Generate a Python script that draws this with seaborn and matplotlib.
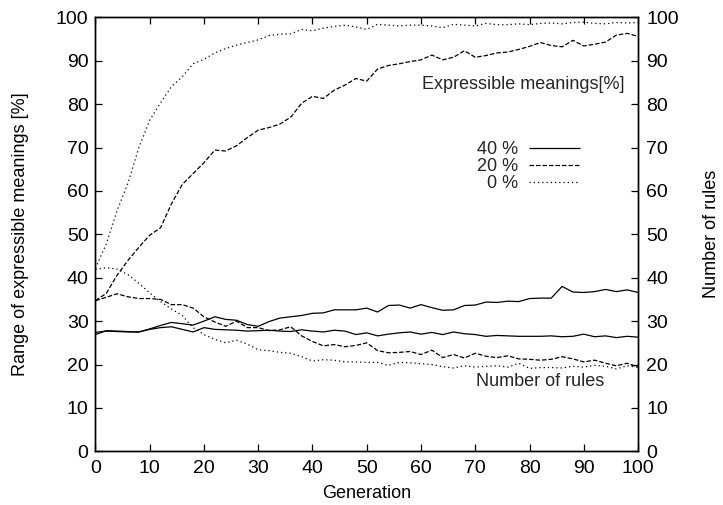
import matplotlib
matplotlib.use("Agg")
import matplotlib.pyplot as plt
import seaborn as sns
import numpy as np
import pandas as pd

# ---- data ----
generation = list(range(0, 101, 2))

meanings_40 = [27.4, 27.7, 27.6, 27.5, 27.5, 28.2, 29.0, 29.7, 29.4, 29.1, 30.0, 31.0, 30.4,
               30.2, 29.2, 28.8, 29.9, 30.7, 31.0, 31.3, 31.8, 31.9, 32.6, 32.6, 32.6, 33.0,
               32.1, 33.6, 33.7, 33.0, 33.8, 33.1, 32.5, 32.6, 33.6, 33.7, 34.4, 34.3, 34.6,
               34.5, 35.2, 35.3, 35.3, 38.0, 36.7, 36.6, 36.8, 37.3, 36.8, 37.2, 36.6]
meanings_20 = [34.7, 36.4, 40.6, 44.0, 47.0, 49.8, 51.5, 57.0, 61.5, 64.0, 66.5, 69.4, 69.2,
               70.4, 72.3, 74.0, 74.6, 75.4, 77.0, 80.2, 81.8, 81.3, 83.2, 84.4, 85.9, 85.3,
               88.1, 88.9, 89.3, 89.8, 90.2, 91.3, 90.2, 90.8, 92.3, 90.8, 91.2, 91.8, 92.0,
               92.6, 93.3, 94.2, 93.5, 93.2, 94.7, 93.4, 93.8, 94.3, 95.9, 96.3, 95.6]
meanings_0 = [42.2, 47.8, 55.5, 61.8, 70.0, 76.3, 80.3, 84.0, 86.3, 89.3, 90.3, 91.8, 92.8,
              93.6, 94.2, 94.8, 95.8, 96.1, 96.2, 97.2, 96.9, 97.5, 97.9, 98.2, 97.8, 97.2,
              98.4, 98.2, 98.0, 98.2, 98.2, 98.0, 97.6, 98.4, 98.2, 98.0, 98.6, 98.3, 98.3,
              98.5, 98.3, 98.6, 98.7, 98.5, 98.8, 98.9, 98.6, 98.5, 98.8, 98.7, 98.8]

rules_40 = [26.9, 27.8, 27.7, 27.6, 27.5, 28.1, 28.5, 28.7, 28.1, 27.5, 28.5, 28.1, 28.0,
            27.9, 27.7, 27.8, 27.9, 27.7, 27.6, 28.0, 27.7, 27.5, 27.9, 27.7, 26.9, 27.3,
            26.6, 27.0, 27.3, 27.5, 27.0, 27.4, 26.9, 27.5, 27.1, 26.9, 26.5, 26.7, 26.6,
            26.5, 26.5, 26.5, 26.6, 26.4, 26.5, 27.0, 26.4, 26.6, 26.2, 26.5, 26.3]
rules_20 = [34.7, 35.5, 36.3, 35.6, 35.2, 35.2, 35.0, 33.8, 33.8, 33.0, 31.0, 29.8, 28.8,
            30.0, 28.5, 28.5, 27.8, 28.0, 28.7, 26.6, 25.3, 24.3, 24.6, 24.1, 24.4, 25.0,
            23.2, 22.7, 22.8, 23.0, 22.3, 23.3, 21.6, 22.3, 21.5, 22.6, 21.9, 21.6, 22.0,
            21.3, 21.2, 21.0, 21.2, 21.8, 21.3, 20.6, 21.0, 20.3, 19.7, 20.3, 19.4]
rules_0 = [41.9, 42.3, 42.0, 40.7, 38.7, 36.5, 34.5, 32.8, 31.3, 28.5, 26.9, 25.8, 25.0,
           25.6, 24.7, 23.4, 23.2, 22.8, 22.6, 21.8, 20.8, 21.1, 21.0, 20.6, 20.6, 20.5,
           20.5, 19.8, 20.5, 20.4, 20.2, 20.0, 19.5, 19.2, 19.7, 19.4, 19.6, 19.7, 19.4,
           20.3, 19.1, 19.3, 19.3, 19.2, 19.6, 19.4, 19.8, 19.6, 19.0, 19.7, 19.4]

series_labels = ["40 %", "20 %", "0 %"]
axis_ticks = list(range(0, 101, 10))

# ---- styling ----
sns.set_theme(style="ticks")
plt.rcParams["font.family"] = ["Liberation Sans", "DejaVu Sans"]
plt.rcParams["xtick.direction"] = "in"
plt.rcParams["ytick.direction"] = "in"

TICK_FS = 14
TEXT_FS = 13
YLAB_FS = 13

styles = {
    "40 %": (0, ()),
    "20 %": (0, (3.6, 1.6)),
    "0 %": (0, (1.0, 2.4)),
}

fig = plt.figure(figsize=(7.23, 5.05), dpi=100)
ax = fig.add_axes([0.132, 0.1063, 0.7505, 0.8594])
ax2 = ax.twinx()

meanings = {"40 %": meanings_40, "20 %": meanings_20, "0 %": meanings_0}
rules = {"40 %": rules_40, "20 %": rules_20, "0 %": rules_0}

for lab in series_labels:
    sns.lineplot(x=generation, y=meanings[lab], ax=ax, color="black", lw=0.9,
                 linestyle=styles[lab], label=lab)
    sns.lineplot(x=generation, y=rules[lab], ax=ax2, color="black", lw=0.9,
                 linestyle=styles[lab], legend=False)

for a in (ax, ax2):
    a.set_xlim(0, 100)
    a.set_ylim(0, 100)
    a.set_yticks(axis_ticks)
    a.set_xticks(axis_ticks)
    for s in a.spines.values():
        s.set_color("black")
        s.set_linewidth(1.0)
    a.tick_params(colors="black", length=5, width=0.9, labelsize=TICK_FS)

ax.tick_params(axis="x", top=True, pad=6)
ax.tick_params(axis="y", left=True, right=False, pad=5)
ax2.tick_params(axis="y", right=True, left=False, pad=6)

ax.set_xlabel("Generation", fontsize=TEXT_FS, color="black")
ax.set_ylabel("Range of expressible meanings [%]", fontsize=YLAB_FS, color="black")
ax2.set_ylabel("Number of rules", fontsize=YLAB_FS, color="black")
ax.xaxis.set_label_coords(0.5, -0.078)
ax.yaxis.set_label_coords(-0.123, 0.5)
ax2.yaxis.set_label_coords(1.12, 0.5)

ax.text(97.5, 84.5, "Expressible meanings[%]", ha="right", va="center", fontsize=TEXT_FS)
ax.text(93.7, 16.2, "Number of rules", ha="right", va="center", fontsize=TEXT_FS)

leg = ax.legend(loc="upper right", bbox_to_anchor=(0.893, 0.715), frameon=False,
                markerfirst=False, handlelength=2.8, labelspacing=0.0,
                borderpad=0, borderaxespad=0, handletextpad=0.65, fontsize=TEXT_FS)
for t in leg.get_texts():
    t.set_ha("right")

fig.savefig("out.png", dpi=100)
